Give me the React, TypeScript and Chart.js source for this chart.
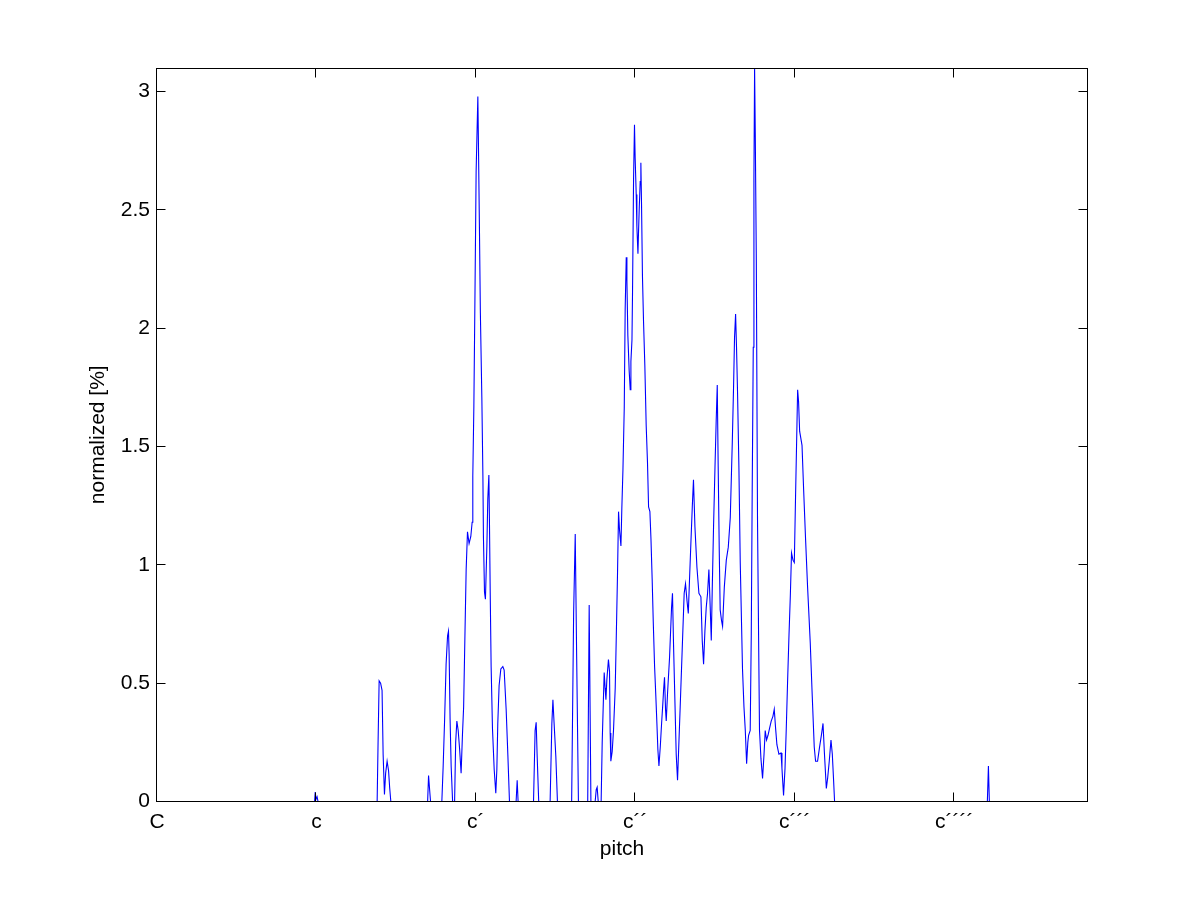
import { useEffect, useRef } from "react";
import { Chart, registerables } from "chart.js";

Chart.register(...registerables);

// pitch in semitones above C (C = 0, c = 12, c´ = 24, ...)
const pitch = [
  0,
  11.86, 11.91, 11.97, 12.05, 12.12,
  16.57, 16.64, 16.72, 16.83, 16.94, 17.02, 17.12, 17.21, 17.32, 17.43, 17.51, 17.6,
  20.37, 20.44, 20.52, 20.59,
  21.44, 21.54, 21.65, 21.76, 21.87, 21.94, 21.99, 22.06, 22.14, 22.25,
  22.4, 22.48, 22.57, 22.67, 22.78, 22.89, 22.99, 23.08, 23.19, 23.27,
  23.37, 23.49, 23.62, 23.72, 23.77, 23.85, 23.92, 24.02, 24.15, 24.19,
  24.27, 24.34, 24.45, 24.53, 24.57, 24.65, 24.72, 24.83, 24.9, 24.98,
  25.02, 25.08, 25.15, 25.25, 25.38, 25.5, 25.58, 25.65, 25.75, 25.88,
  26.03, 26.13, 26.28, 26.41, 26.53,
  27.03, 27.11, 27.18,
  28.34, 28.46, 28.54, 28.61, 28.73,
  29.59, 29.72, 29.8, 29.89, 30.02, 30.14,
  31.21, 31.36, 31.48, 31.59, 31.72,
  32.42, 32.53, 32.66,
  32.98, 33.06, 33.13, 33.21,
  33.43, 33.51, 33.61, 33.66, 33.73, 33.79, 33.86, 33.98, 34.06, 34.11,
  34.16, 34.26, 34.36, 34.49, 34.56, 34.66, 34.74, 34.81, 34.92, 34.99,
  35.07, 35.17, 35.24, 35.32, 35.37, 35.44, 35.54, 35.62, 35.67, 35.75,
  35.79, 35.87, 35.94, 35.99, 36.07, 36.12, 36.2, 36.24, 36.3, 36.37,
  36.42, 36.47, 36.54, 36.62, 36.72, 36.82, 36.92, 37.0, 37.1, 37.18,
  37.27, 37.35, 37.45, 37.55, 37.63, 37.7, 37.78, 37.88, 37.98, 38.08,
  38.13, 38.2, 38.28, 38.33, 38.43, 38.58, 38.73, 38.8, 38.88, 38.98,
  39.08, 39.18, 39.28, 39.38, 39.53, 39.68, 39.78, 39.89, 39.99, 40.08,
  40.19, 40.29, 40.38, 40.49, 40.64, 40.79, 40.94, 41.04, 41.14, 41.24,
  41.34, 41.44, 41.54, 41.64, 41.72, 41.79, 41.89, 42.0, 42.09, 42.17,
  42.24, 42.32, 42.39, 42.49, 42.57, 42.7, 42.85, 43.0, 43.15, 43.3,
  43.4, 43.47, 43.55, 43.62, 43.7, 43.8, 43.9, 44.0, 44.07, 44.18,
  44.28, 44.38, 44.47, 44.53, 44.65, 44.73, 44.8, 44.88, 44.93, 44.98,
  45.03, 45.11, 45.2, 45.28, 45.35, 45.46, 45.58, 45.69, 45.78, 45.88,
  45.99, 46.11, 46.23, 46.36, 46.46, 46.56, 46.66, 46.81, 46.97, 47.04,
  47.16, 47.27, 47.36, 47.46, 47.57, 47.67, 47.76, 47.87, 47.97, 48.07,
  48.17, 48.22, 48.29, 48.37, 48.55, 48.67, 48.82, 48.97, 49.17, 49.32,
  49.47, 49.57, 49.72, 49.87, 50.02, 50.13, 50.23, 50.38, 50.48, 50.6,
  50.73, 50.83, 50.93, 51.0,
  62.5, 62.58, 62.65,
  70,
];

// normalized share in percent, one value per pitch entry above
const normalized = [
  0,
  0, 0.04, 0.01, 0.02, 0,
  0, 0.25, 0.51, 0.5, 0.47, 0.2, 0.03, 0.12, 0.17, 0.13, 0.06, 0,
  0, 0.11, 0.05, 0,
  0, 0.15, 0.35, 0.58, 0.7, 0.72, 0.62, 0.35, 0.15, 0,
  0, 0.25, 0.34, 0.3, 0.22, 0.12, 0.28, 0.4, 0.74, 0.98,
  1.14, 1.09, 1.12, 1.18, 1.375, 1.67, 2.065, 2.66, 2.98, 2.8,
  2.42, 2.065, 1.71, 1.375, 1.12, 0.885, 0.855, 1.08, 1.28, 1.38,
  1.2, 0.885, 0.57, 0.31, 0.135, 0.035, 0.135, 0.33, 0.49, 0.56,
  0.57, 0.555, 0.39, 0.195, 0,
  0, 0.09, 0,
  0, 0.3, 0.335, 0.2, 0,
  0, 0.33, 0.43, 0.33, 0.19, 0,
  0, 0.8, 1.13, 0.6, 0,
  0, 0.83, 0,
  0, 0.05, 0.06, 0,
  0, 0.25, 0.45, 0.545, 0.48, 0.43, 0.515, 0.6, 0.55, 0.29,
  0.17, 0.21, 0.3, 0.48, 0.67, 0.955, 1.225, 1.15, 1.08, 1.245,
  1.4, 1.665, 2.085, 2.3, 2.2, 1.97, 1.82, 1.74, 1.86, 1.95,
  2.14, 2.63, 2.86, 2.72, 2.565, 2.43, 2.315, 2.4, 2.51, 2.62,
  2.7, 2.525, 2.22, 2.03, 1.84, 1.59, 1.43, 1.245, 1.225, 1.11,
  0.94, 0.765, 0.575, 0.44, 0.325, 0.22, 0.15, 0.23, 0.33, 0.42,
  0.47, 0.525, 0.385, 0.34, 0.46, 0.61, 0.82, 0.88, 0.66, 0.43,
  0.2, 0.09, 0.245, 0.4, 0.64, 0.88, 0.92, 0.85, 0.795, 0.935,
  1.1, 1.245, 1.36, 1.16, 0.99, 0.88, 0.865, 0.68, 0.58, 0.72,
  0.82, 0.88, 0.98, 0.82, 0.68, 0.89, 1.16, 1.415, 1.61, 1.76,
  1.415, 1.06, 0.81, 0.765, 0.74, 0.905, 1.02, 1.075, 1.2, 1.515,
  1.76, 1.96, 2.06, 1.92, 1.72, 1.41, 1.01, 0.745, 0.56, 0.4,
  0.3, 0.16, 0.25, 0.28, 0.3, 0.705, 1.31, 1.92, 2.63, 3.1,
  2.83, 2.285, 1.19, 0.705, 0.3, 0.18, 0.097, 0.2, 0.3, 0.26,
  0.28, 0.31, 0.34, 0.36, 0.39, 0.31, 0.24, 0.2, 0.205, 0.14,
  0.025, 0.14, 0.3, 0.5, 0.705, 0.87, 1.05, 1.02, 1.01, 1.31,
  1.595, 1.74, 1.69, 1.565, 1.505, 1.32, 1.105, 0.905, 0.67, 0.445,
  0.23, 0.17, 0.17, 0.23, 0.285, 0.33, 0.21, 0.055, 0.1, 0.17,
  0.26, 0.2, 0.085, 0,
  0, 0.15, 0,
  0,
];

const tickPitches = [0, 12, 24, 36, 48, 60];
const tickNames = ["C", "c", "c´", "c´´", "c´´´", "c´´´´"];
const yTicks = [0, 0.5, 1, 1.5, 2, 2.5, 3];
const xMin = 0;
const xMax = 70;
const yMin = 0;
const yMax = 3.1;
const xLabel = "pitch";
const yLabel = "normalized [%]";

const FONT = '"Liberation Sans", Arial, Helvetica, sans-serif';
const FONT_SIZE = 21;

export default function App() {
  const ref = useRef<HTMLCanvasElement>(null);

  useEffect(() => {
    const canvas = ref.current;
    if (!canvas) return;

    const axesPlugin = {
      id: "matlabAxes",
      afterDatasetsDraw(chart: any) {
        const { ctx, chartArea: a, scales } = chart;
        const xs = scales.x;
        const ys = scales.y;
        ctx.save();
        ctx.strokeStyle = "#000";
        ctx.lineWidth = 1;
        const L = Math.floor(a.left) - 0.5;
        const R = Math.round(a.right) + 0.5;
        const T = Math.round(a.top) + 0.5;
        const B = Math.floor(a.bottom) + 0.5;
        ctx.strokeRect(L, T, R - L, B - T);
        const len = 9;
        ctx.beginPath();
        tickPitches.forEach((v) => {
          const px = Math.floor(xs.getPixelForValue(v) - 0.5) + 0.5;
          ctx.moveTo(px, B);
          ctx.lineTo(px, B - len);
          ctx.moveTo(px, T);
          ctx.lineTo(px, T + len);
        });
        yTicks.forEach((v) => {
          const py = Math.floor(ys.getPixelForValue(v)) + 0.5;
          ctx.moveTo(L, py);
          ctx.lineTo(L + len, py);
          ctx.moveTo(R, py);
          ctx.lineTo(R - len, py);
        });
        ctx.stroke();

        ctx.fillStyle = "#000";
        ctx.font = `${FONT_SIZE}px ${FONT}`;
        ctx.textAlign = "center";
        ctx.textBaseline = "alphabetic";
        ctx.fillText(xLabel, (a.left + a.right) / 2, 855);
        ctx.translate(104, (a.top + a.bottom) / 2);
        ctx.rotate(-Math.PI / 2);
        ctx.fillText(yLabel, 0, 0);
        ctx.restore();
      },
    };

    const chart = new Chart(canvas, {
      type: "line",
      data: {
        datasets: [
          {
            data: pitch.map((p, i) => ({ x: p, y: normalized[i] })),
            borderColor: "#0000ff",
            borderWidth: 1.1,
            pointRadius: 0,
            pointHoverRadius: 0,
            tension: 0,
            fill: false,
          },
        ],
      },
      options: {
        responsive: false,
        animation: false,
        events: [],
        layout: { padding: { top: 68, right: 114, left: 0, bottom: 0 } },
        plugins: {
          legend: { display: false },
          tooltip: { enabled: false },
          title: { display: false },
        },
        scales: {
          x: {
            type: "linear",
            min: xMin,
            max: xMax,
            grid: { display: false, drawTicks: false },
            border: { display: false },
            afterBuildTicks: (s: any) => {
              s.ticks = tickPitches.map((v) => ({ value: v }));
            },
            afterFit: (s: any) => {
              s.height = 99.5;
            },
            ticks: {
              autoSkip: false,
              maxRotation: 0,
              minRotation: 0,
              padding: 8,
              color: "#000",
              font: { family: FONT, size: FONT_SIZE },
              callback: (v: any) => {
                const i = tickPitches.indexOf(Number(v));
                return i >= 0 ? tickNames[i] : "";
              },
            },
          },
          y: {
            type: "linear",
            min: yMin,
            max: yMax,
            grid: { display: false, drawTicks: false },
            border: { display: false },
            afterBuildTicks: (s: any) => {
              s.ticks = yTicks.map((v) => ({ value: v }));
            },
            afterFit: (s: any) => {
              s.width = 157;
            },
            ticks: {
              padding: 7,
              color: "#000",
              font: { family: FONT, size: FONT_SIZE },
              callback: (v: any) => String(v),
            },
          },
        },
      },
      plugins: [axesPlugin],
    });

    return () => chart.destroy();
  }, []);

  return (
    <div style={{ position: "absolute", left: 0, top: 0, width: 1201, height: 901, background: "#fff" }}>
      <canvas ref={ref} width={1201} height={901} style={{ display: "block", width: 1201, height: 901 }} />
    </div>
  );
}
